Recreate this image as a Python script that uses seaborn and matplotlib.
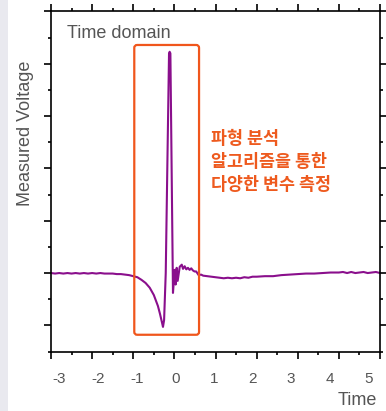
import matplotlib
matplotlib.use("Agg")
import matplotlib.pyplot as plt
from matplotlib.patches import FancyBboxPatch, Rectangle
from matplotlib.ticker import MultipleLocator
import seaborn as sns

# ---- data ----
time = [-3.0, -2.9, -2.8, -2.7, -2.6, -2.5, -2.4, -2.3, -2.2, -2.1, -2.0,
        -1.9, -1.8, -1.7, -1.6, -1.5, -1.4, -1.3, -1.2, -1.1, -1.0, -0.9,
        -0.8, -0.7, -0.6, -0.5, -0.4, -0.35, -0.3, -0.277, -0.25, -0.21,
        -0.13, -0.115, -0.097, -0.034, 0.007, 0.03, 0.056, 0.08, 0.13,
        0.18, 0.21, 0.25, 0.29, 0.33, 0.37, 0.41, 0.45, 0.49, 0.53, 0.59,
        0.65, 0.7, 0.8, 0.9, 1.0, 1.1, 1.2, 1.3, 1.4, 1.5, 1.6, 1.7, 1.8,
        1.9, 2.0, 2.2, 2.4, 2.6, 2.8, 3.0, 3.2, 3.4, 3.6, 3.8, 4.0, 4.1,
        4.2, 4.3, 4.4, 4.5, 4.6, 4.7, 4.8, 4.9, 5.0]
voltage = [0.0, -0.01, 0.0, -0.01, 0.0, -0.01, 0.0, -0.01, 0.0, -0.01, 0.0,
           -0.01, 0.0, -0.01, -0.01, -0.01, -0.02, -0.02, -0.03, -0.04, -0.06, -0.08,
           -0.13, -0.19, -0.28, -0.42, -0.63, -0.78, -0.95, -1.03, -0.9, 0.0,
           4.2, 4.23, 4.2, -0.38, 0.06, -0.22, 0.10, -0.15, 0.12,
           0.16, 0.08, 0.13, 0.07, 0.10, 0.06, 0.09, 0.05, 0.03, 0.03, -0.04,
           -0.03, -0.05, -0.06, -0.07, -0.08, -0.09, -0.10, -0.09, -0.10, -0.09, -0.10, -0.08, -0.09,
           -0.07, -0.07, -0.06, -0.06, -0.04, -0.03, -0.02, -0.01, -0.01, 0.0, 0.01, 0.01, 0.02,
           0.0, 0.02, 0.0, 0.01, 0.02, 0.0, 0.01, 0.02, 0.0]
x_ticks = [-3, -2, -1, 0, 1, 2, 3, 4, 5]
title_text = "Time domain"
note_text = "파형 분석\n알고리즘을 통한\n다양한 변수 측정"
x_label = "Time"
y_label = "Measured Voltage"

sns.set_style("ticks")
plt.rcParams['font.family'] = ['Liberation Sans', 'Noto Sans CJK KR', 'DejaVu Sans']
plt.rcParams['axes.unicode_minus'] = False

fig = plt.figure(figsize=(3.86, 4.11), dpi=100)
fig.patches.append(Rectangle((0, 0), 8 / 386, 1, transform=fig.transFigure,
                             facecolor="#e9e9ef", edgecolor="none", zorder=0))
ax = fig.add_axes([51 / 386, 1 - 351.5 / 411, 329 / 386, 340 / 411])

sns.lineplot(x=time, y=voltage, ax=ax, color="#8a0f8c", linewidth=1.5, sort=False)

ax.set_xlim(-3, 5)
ax.set_ylim(-1.5, 5)
ax.set_xticks(x_ticks)
ax.xaxis.set_minor_locator(MultipleLocator(0.5))
ax.yaxis.set_major_locator(MultipleLocator(1))
ax.yaxis.set_minor_locator(MultipleLocator(0.5))

for s in ax.spines.values():
    s.set_visible(True)
    s.set_linewidth(1.2)
    s.set_color("black")

ax.tick_params(which='both', direction='out', top=True, right=True,
               labelleft=False, labelbottom=False, color="black", width=1.2)
ax.tick_params(which='major', length=5)
ax.tick_params(which='minor', length=2.5)

# tick labels in the reference sit on a slightly narrower pitch than the tick marks
sec = ax.secondary_xaxis('bottom',
                         functions=(lambda v: (41.1 * v - 0.9) / 38.6,
                                    lambda u: (38.6 * u + 0.9) / 41.1))
sec.set_xticks(x_ticks)
sec.spines['bottom'].set_visible(False)
sec.tick_params(length=0, labelsize=11, labelcolor="#555555", pad=14.5)
sec.xaxis.set_minor_locator(plt.NullLocator())

ax.set_xlabel(x_label, fontsize=13, color="#555555")
ax.xaxis.set_label_coords(0.99, -0.119)
ax.xaxis.label.set_horizontalalignment('right')
ax.set_ylabel(y_label, fontsize=13, color="#555555")
ax.yaxis.set_label_coords(-0.052, 0.643)

# highlight box
box = FancyBboxPatch((-0.975, -1.18), 1.575, 5.54,
                     boxstyle="round,pad=0,rounding_size=0.07",
                     mutation_aspect=0.786, facecolor="none",
                     edgecolor="#f0561c", linewidth=1.6, zorder=3)
ax.add_patch(box)

ax.text(-2.6, 4.57, title_text, fontsize=13, color="#555555", va='center', ha='left')
ax.text(0.9, 2.74, note_text, fontsize=12.5, color="#ee5a1e", fontweight='bold',
        va='top', ha='left', linespacing=1.35,
        family=['Noto Sans CJK KR', 'DejaVu Sans'])

fig.savefig("out.png", dpi=100)
